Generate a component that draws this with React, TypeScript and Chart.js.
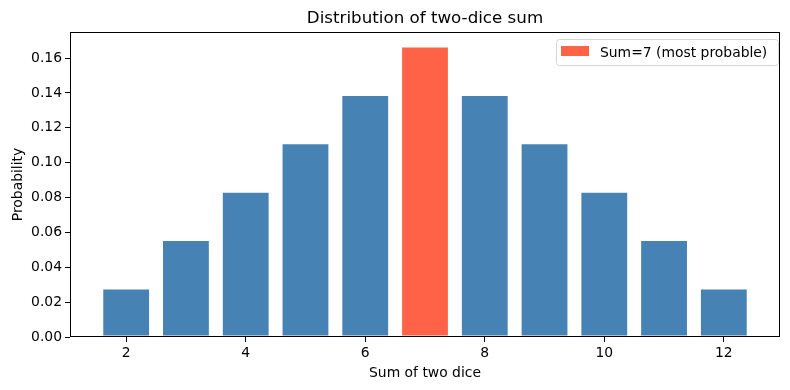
import React, { useEffect, useRef } from "react";
import { Chart, registerables } from "chart.js";

Chart.register(...registerables);

const sums = [2, 3, 4, 5, 6, 8, 9, 10, 11, 12];
const probs = [0.0278, 0.0556, 0.0833, 0.1111, 0.1389, 0.1389, 0.1111, 0.0833, 0.0556, 0.0278];
const highlightSum = [7];
const highlightProb = [0.1667];
const xTicks = [2, 4, 6, 8, 10, 12];
const yTicks = [0, 0.02, 0.04, 0.06, 0.08, 0.1, 0.12, 0.14, 0.16];
const titleText = "Distribution of two-dice sum";
const xLabel = "Sum of two dice";
const yLabel = "Probability";
const legendLabel = "Sum=7 (most probable)";

const FONT = "'DejaVu Sans', sans-serif";

const framePlugin = {
  id: "frame",
  afterDraw(chart: any) {
    const { ctx, chartArea: a } = chart;
    ctx.save();
    ctx.strokeStyle = "#000";
    ctx.lineWidth = 1;
    ctx.strokeRect(a.left + 0.5, a.top + 0.5, a.right - a.left - 1, a.bottom - a.top - 1);
    // title
    ctx.fillStyle = "#000";
    ctx.font = `16.7px ${FONT}`;
    ctx.textAlign = "center";
    ctx.textBaseline = "alphabetic";
    ctx.fillText(titleText, (a.left + a.right) / 2, 23);
    // axis labels
    ctx.font = `13.9px ${FONT}`;
    ctx.fillText(xLabel, (a.left + a.right) / 2, 377);
    ctx.save();
    ctx.translate(22, (a.top + a.bottom) / 2);
    ctx.rotate(-Math.PI / 2);
    ctx.fillText(yLabel, 0, 0);
    ctx.restore();
    // legend
    const bx = 556, by = 39, bw = 222, bh = 26;
    ctx.beginPath();
    ctx.roundRect(bx + 0.5, by + 0.5, bw, bh, 3);
    ctx.fillStyle = "rgba(255,255,255,0.8)";
    ctx.fill();
    ctx.strokeStyle = "#d6d6d6";
    ctx.stroke();
    ctx.fillStyle = "#FF6347";
    ctx.fillRect(561, 46, 28, 10);
    ctx.fillStyle = "#000";
    ctx.textAlign = "left";
    ctx.fillText(legendLabel, 600, 57);
    ctx.restore();
  },
};

export default function App() {
  const ref = useRef<HTMLCanvasElement>(null);
  useEffect(() => {
    document.body.style.margin = "0";
    const chart = new Chart(ref.current!, {
      type: "bar",
      data: {
        datasets: [
          {
            label: "all",
            data: sums.map((s, i) => ({ x: s, y: probs[i] })),
            backgroundColor: "#4682B4",
            borderColor: "#ffffff",
            borderWidth: 1,
            borderSkipped: false,
            barPercentage: 0.8,
            categoryPercentage: 1,
            grouped: false,
          } as any,
          {
            label: legendLabel,
            data: highlightSum.map((s, i) => ({ x: s, y: highlightProb[i] })),
            backgroundColor: "#FF6347",
            borderColor: "#ffffff",
            borderWidth: 1,
            borderSkipped: false,
            barPercentage: 0.8,
            categoryPercentage: 1,
            grouped: false,
          } as any,
        ],
      },
      options: {
        animation: false,
        responsive: false,
        layout: { padding: { left: 0, right: 10, top: 32, bottom: 0 } },
        plugins: { legend: { display: false }, title: { display: false }, tooltip: { enabled: false } },
        scales: {
          x: {
            type: "linear",
            offset: false,
            min: 1.06,
            max: 12.94,
            afterBuildTicks: (s: any) => {
              s.ticks = xTicks.map((v) => ({ value: v }));
            },
            afterFit: (s: any) => {
              s.height = 53;
            },
            grid: { offset: false, drawOnChartArea: false, drawTicks: true, tickLength: 5, color: "#000" },
            border: { display: false },
            ticks: {
              color: "#000",
              font: { family: FONT, size: 13.9 },
              padding: 3,
              maxRotation: 0,
              callback: (v: any) => String(v),
            },
          },
          y: {
            min: 0,
            max: 0.175,
            afterBuildTicks: (s: any) => {
              s.ticks = yTicks.map((v) => ({ value: v }));
            },
            afterFit: (s: any) => {
              s.width = 70;
            },
            grid: { drawOnChartArea: false, drawTicks: true, tickLength: 5, color: "#000" },
            border: { display: false },
            ticks: {
              color: "#000",
              font: { family: FONT, size: 13.9 },
              padding: 3,
              callback: (v: any) => Number(v).toFixed(2),
            },
          },
        },
      },
      plugins: [framePlugin],
    } as any);
    return () => chart.destroy();
  }, []);
  return (
    <div style={{ width: 790, height: 390 }}>
      <canvas ref={ref} width={790} height={390} style={{ display: "block" }} />
    </div>
  );
}
